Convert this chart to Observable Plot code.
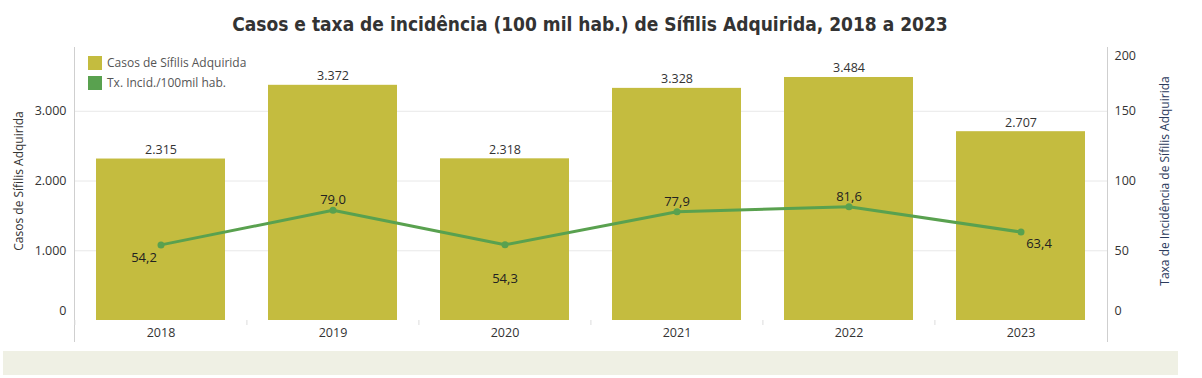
<!DOCTYPE html>
<html><head><meta charset="utf-8">
<script src="https://cdn.jsdelivr.net/npm/d3@7"></script>
<script src="https://cdn.jsdelivr.net/npm/@observablehq/plot@0.6"></script>
<style>
body{margin:0;background:#fff;width:1202px;height:378px;overflow:hidden;position:relative;font-family:"Open Sans",sans-serif}
#chart{position:absolute;left:0;top:0}
#title{position:absolute;left:0;width:1180px;top:11px;text-align:center;font:bold 19px "Liberation Sans Narrow","DejaVu Sans Condensed",sans-serif;color:#333;line-height:26px}
.lg{position:absolute;left:88px;height:14px;font-size:12px;color:#555;line-height:14px;white-space:nowrap}
.sw{display:inline-block;width:14px;height:14px;vertical-align:top;margin-right:5px}
#band{position:absolute;left:3px;top:351px;width:1175px;height:24px;background:#EFF0E4}
</style></head><body>
<div id="chart"></div>
<div id="title">Casos e taxa de incidência (100 mil hab.) de Sífilis Adquirida, 2018 a 2023</div>
<div id="legend"></div>
<div id="band"></div>
<script>
// ---- data ----
const years = ["2018","2019","2020","2021","2022","2023"];
const cases = [2315, 3372, 2318, 3328, 3484, 2707];
const rates = [54.2, 79.0, 54.3, 77.9, 81.6, 63.4];
const leftTicks = [0, 1000, 2000, 3000];
const rightTicks = [0, 50, 100, 150, 200];
const seriesNames = ["Casos de Sífilis Adquirida", "Tx. Incid./100mil hab."];
const leftTitle = "Casos de Sífilis Adquirida";
const rightTitle = "Taxa de Incidência de Sífilis Adquirida";
const caseMax = 4000, rateMax = 200;

// ---- styling ----
const barColor = "#C4BC3F", lineColor = "#59A14F";
const ratio = caseMax / rateMax;
const loc = d3.formatLocale({decimal: ",", thousands: ".", grouping: [3], currency: ["", ""]});
const fmtInt = loc.format(",d");
const fmtDec = loc.format(",.1f");
const data = years.map((y, i) => ({year: y, cases: cases[i], rate: rates[i], rateScaled: rates[i] * ratio}));
const labelPlacement = {"2018": [-17, 13], "2019": [0, -10], "2020": [0, 34], "2021": [0, -10], "2022": [0, -10], "2023": [18, 12]};

const legend = document.getElementById("legend");
[barColor, lineColor].forEach((c, i) => {
  const d = document.createElement("div");
  d.className = "lg";
  d.style.top = (56 + i * 20) + "px";
  d.innerHTML = `<span class="sw" style="background:${c}"></span>`;
  d.appendChild(document.createTextNode(seriesNames[i]));
  legend.appendChild(d);
});

const rateLabels = years.map(y => Plot.text(data.filter(d => d.year === y), {
  x: "year", y: "rateScaled", text: d => fmtDec(d.rate),
  dx: labelPlacement[y][0], dy: labelPlacement[y][1], fill: "#222", fontSize: 13
}));

const chart = Plot.plot({
  width: 1202, height: 378,
  marginLeft: 74, marginRight: 95, marginTop: 41, marginBottom: 58,
  style: {fontFamily: "'Open Sans', sans-serif", fontSize: "12.5px", color: "#333", background: "transparent"},
  x: {domain: years, paddingInner: 0.25, paddingOuter: 0.125, axis: null},
  y: {domain: [0, caseMax], axis: null},
  marks: [
    Plot.gridY(leftTicks.filter(d => d > 0), {stroke: "#e8e8e8", strokeOpacity: 1}),
    Plot.barY(data, {x: "year", y: "cases", fill: barColor}),
    Plot.text(data, {x: "year", y: "cases", text: d => fmtInt(d.cases), lineAnchor: "bottom", dy: -5, fill: "#333", fontSize: 12.5}),
    Plot.line(data, {x: "year", y: "rateScaled", stroke: lineColor, strokeWidth: 3}),
    Plot.dot(data, {x: "year", y: "rateScaled", r: 3.5, fill: lineColor}),
    ...rateLabels,
    Plot.frame({anchor: "left", stroke: "#cfcfcf", insetTop: 6, insetBottom: -21}),
    Plot.frame({anchor: "right", stroke: "#cfcfcf", insetTop: 6, insetBottom: -21}),
    Plot.axisY(leftTicks.filter(d => d > 0), {anchor: "left", tickSize: 0, tickPadding: 8, tickFormat: fmtInt, label: null, fill: "#333"}),
    Plot.axisY([0], {anchor: "left", tickSize: 0, tickPadding: 8, tickFormat: fmtInt, label: null, dy: -10, fill: "#333"}),
    Plot.axisY(rightTicks.filter(d => d > 0 && d < rateMax).map(d => d * ratio), {anchor: "right", tickSize: 0, tickPadding: 7, tickFormat: d => fmtInt(d / ratio), label: null, fill: "#333"}),
    Plot.axisY([0], {anchor: "right", tickSize: 0, tickPadding: 7, tickFormat: d => fmtInt(d / ratio), label: null, dy: -10, fill: "#333"}),
    Plot.axisY([rateMax * ratio], {anchor: "right", tickSize: 0, tickPadding: 7, tickFormat: d => fmtInt(d / ratio), label: null, dy: 14, fill: "#333"}),
    Plot.axisX({anchor: "bottom", tickSize: 0, tickPadding: 8, label: null, fill: "#333"}),
    Plot.axisX({anchor: "bottom", tickSize: 5, tickFormat: () => "", label: null, stroke: "#dcdcdc", dx: -86.1}),
    Plot.text([leftTitle], {frameAnchor: "left", textAnchor: "middle", rotate: -90, dx: -55, text: d => d, fill: "#333", fontSize: 12}),
    Plot.text([rightTitle], {frameAnchor: "right", textAnchor: "middle", rotate: -90, dx: 58, text: d => d, fill: "#2b3a5c", fontSize: 12})
  ]
});
document.getElementById("chart").appendChild(chart);
</script>
</body></html>
